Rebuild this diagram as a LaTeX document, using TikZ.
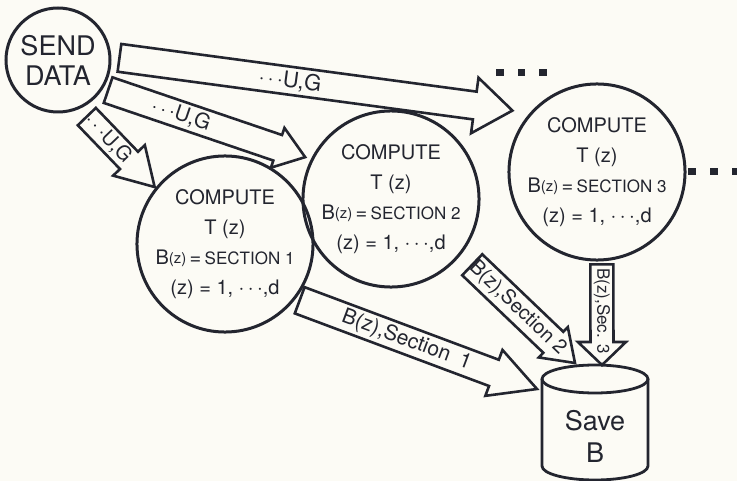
\documentclass[tikz,border=0pt]{standalone}
\usepackage{fontspec}
\setmainfont{TeX Gyre Heros}
\usetikzlibrary{calc}

\definecolor{paper}{HTML}{FCFBF5}
\definecolor{ink}{HTML}{23252F}

\newcommand{\zfont}{\fontsize{15}{15}\selectfont}
\newcommand{\secfont}{\fontsize{17}{17}\selectfont}

% fat arrow: from, to, half shaft, half head, head length, label options, label
\newcommand{\fatarrow}[7]{%
    \coordinate (fa-s) at (#1);
    \coordinate (fa-e) at (#2);
    \coordinate (fa-h) at ($(fa-e)!#5!(fa-s)$);
    \draw[fatline] ($(fa-s)!#3!90:(fa-e)$) -- ($(fa-h)!#3!-90:(fa-s)$)
        -- ($(fa-h)!#4!-90:(fa-s)$) -- (fa-e) -- ($(fa-h)!#4!90:(fa-s)$)
        -- ($(fa-h)!#3!90:(fa-s)$) -- ($(fa-s)!#3!-90:(fa-e)$) -- cycle;
    \path (fa-s) -- node[arrowtext, #6] {#7} (fa-h);
}

\begin{document}
\begin{tikzpicture}[
        x=1pt, y=-1pt,
        ink,
        station/.style={
            circle,
            draw,
            line width=3pt,
            inner sep=0pt,
            align=center
        },
        compute/.style={
            station,
            font=\fontsize{20}{30}\selectfont
        },
        fatline/.style={
            draw=ink,
            fill=paper,
            line width=2.6pt,
            line join=miter
        },
        arrowtext/.style={
            sloped,
            inner sep=0pt
        }
    ]

    \fill[paper] (0,0) rectangle (737,481);
    \useasboundingbox (0,0) rectangle (737,481);

    % Processes
    \node[station, minimum size=104pt, font=\fontsize{27}{30}\selectfont] (send) at (58,60) {SEND\\DATA};

    \node[compute, minimum size=158pt] (comp1) at (225,244) {
        COMPUTE\\
        T (z)\\
        B\raisebox{1pt}{\zfont(z)}\,=\,{\secfont SECTION 1}\\
        (z) = 1, $\cdots$,d
    };

    \node[compute, minimum size=150pt] (comp2) at (391,199) {
        COMPUTE\\
        T (z)\\
        B\raisebox{1pt}{\zfont(z)}\,=\,{\secfont SECTION 2}\\
        (z) = 1, $\cdots$,d
    };

    \node[compute, minimum size=154pt] (comp3) at (597,172) {
        COMPUTE\\
        T (z)\\
        B\raisebox{1pt}{\zfont(z)}\,=\,{\secfont SECTION 3}\\
        (z) = 1, $\cdots$,d
    };

    % Storage
    \node[font=\fontsize{27}{32}\selectfont, align=center, inner sep=0pt] (save) at (595,436) {Save\\B};
    \draw[line width=2.8pt] ($(save.center)+(-53,-57)$) -- ($(save.center)+(-53,30)$)
        arc[start angle=180, end angle=360, x radius=53pt, y radius=14pt]
        -- ($(save.center)+(53,-57)$);
    \draw[line width=2.8pt] ($(save.center)+(0,-57)$) ellipse[x radius=53pt, y radius=14pt];

    % Arrows
    \fatarrow{$(send.2)!-8pt!(send.center)$}{$(comp3.144)!-15pt!(comp3.center)$}
        {14pt}{28pt}{38pt}{pos=.48, font=\fontsize{22}{22}\selectfont}{$\cdots$U,G}
    \fatarrow{$(send.-31)!-5pt!(send.center)$}{$(comp2.154)!-6pt!(comp2.center)$}
        {13.5pt}{21pt}{29pt}{pos=.43, font=\fontsize{21}{21}\selectfont}{$\cdots$U,G}
    \fatarrow{$(send.-63)!-10pt!(send.center)$}{$(comp1.141)!-1pt!(comp1.center)$}
        {12.5pt}{22pt}{37pt}{pos=.5, font=\fontsize{20}{20}\selectfont}{$\cdots$U,G}
    \fatarrow{$(comp1.-37)!-4pt!(comp1.center)$}{$(save.center)+(-58,-47)$}
        {14pt}{24.5pt}{46pt}{pos=.55, font=\fontsize{21}{21}\selectfont}{B(z),Section\hspace{.5em}1}
    \fatarrow{$(comp2.-39)!-15pt!(comp2.center)$}{$(save.center)+(-20,-73)$}
        {14.5pt}{21pt}{30pt}{pos=.56, font=\fontsize{20}{20}\selectfont}{B(z),Section 2}
    \fatarrow{$(comp3.-87)!-3pt!(comp3.center)$}{$(save.center)+(7,-71)$}
        {11.5pt}{24pt}{23pt}{pos=.6, font=\fontsize{17}{17}\selectfont}{B(z),Sec. 3}

    % More of the same
    \foreach \x in {500,521.5,543} \fill (\x-3.75,69) rectangle ++(7.5,7.5);
    \foreach \x in {692,714,736} \fill (\x-3.75,168) rectangle ++(7.5,7.5);

\end{tikzpicture}
\end{document}
